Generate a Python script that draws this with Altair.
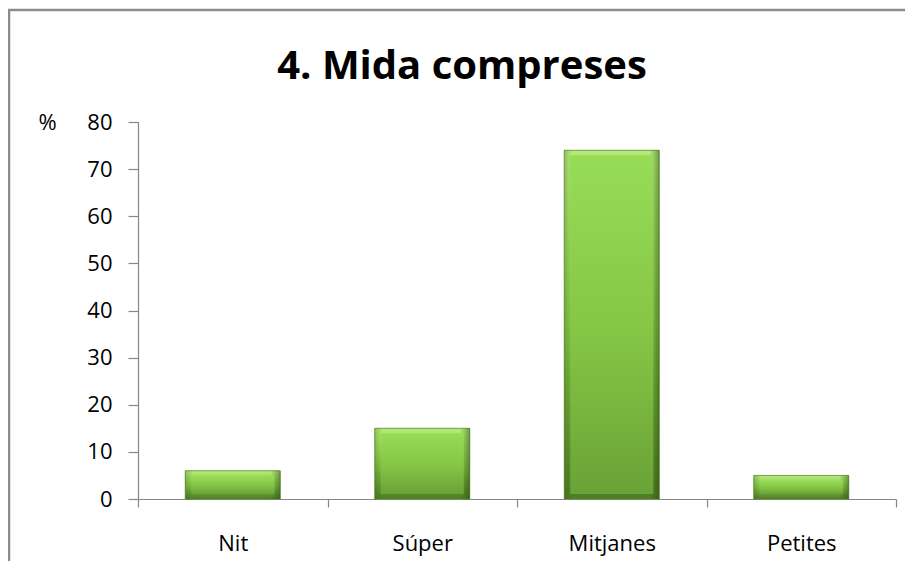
import altair as alt
import pandas as pd

categories = ["Nit", "Súper", "Mitjanes", "Petites"]
values = [6, 15, 74, 5]
y_ticks = [0, 10, 20, 30, 40, 50, 60, 70, 80]
title_text = "4. Mida compreses"

df = pd.DataFrame({"cat": categories, "val": values})

W, H = 758, 377
FONT = "Open Sans"
AXC = "#868686"

x_enc = alt.X(
    "cat:N", sort=categories,
    scale=alt.Scale(paddingInner=0, paddingOuter=0),
    axis=alt.Axis(title=None, labelAngle=0, tickBand="extent", tickSize=8,
                  labelPadding=26, domainColor=AXC, tickColor=AXC,
                  labelFont=FONT, labelFontSize=22, labelColor="#000000"),
)
y_enc = alt.Y(
    "val:Q", stack=None,
    scale=alt.Scale(domain=[0, 80], nice=False),
    axis=alt.Axis(values=y_ticks, title="%", titleAngle=0, titleX=-91, titleY=0,
                  titleBaseline="middle", titleAlign="center", titleFont=FONT,
                  titleFontSize=22, titleFontWeight="normal", titleColor="#000000",
                  grid=False, tickSize=10, labelPadding=16, domainColor=AXC,
                  tickColor=AXC, labelFont=FONT, labelFontSize=22,
                  labelColor="#000000"),
)

outer_grad = alt.Gradient(
    gradient="linear", x1=0, x2=0, y1=0, y2=1,
    stops=[alt.GradientStop(color="#b4ea7a", offset=0),
           alt.GradientStop(color="#86c646", offset=0.5),
           alt.GradientStop(color="#4f7d25", offset=1)],
)
side_grad = alt.Gradient(
    gradient="linear", x1=0, x2=1, y1=0, y2=0,
    stops=[alt.GradientStop(color="rgba(40,80,10,0.25)", offset=0),
           alt.GradientStop(color="rgba(40,80,10,0)", offset=0.08),
           alt.GradientStop(color="rgba(40,80,10,0)", offset=0.9),
           alt.GradientStop(color="rgba(30,60,5,0.45)", offset=1)],
)
inner_grad = alt.Gradient(
    gradient="linear", x1=0, x2=0, y1=0, y2=1,
    stops=[alt.GradientStop(color="#97dc56", offset=0),
           alt.GradientStop(color="#86c746", offset=0.5),
           alt.GradientStop(color="#6aa336", offset=1)],
)

base = alt.Chart(df).encode(x=x_enc, y=y_enc, y2=alt.datum(0))

outer = base.mark_bar(size=95, fill=outer_grad, stroke="#5a8a2c", strokeWidth=0.8)
side = base.mark_bar(size=95, fill=side_grad)
inner = base.mark_bar(size=83, fill=inner_grad, yOffset=5, y2Offset=-5)

title = alt.Chart(pd.DataFrame({"t": [title_text]})).mark_text(
    font=FONT, fontSize=40, fontWeight="bold", color="#000000",
    align="center", baseline="alphabetic",
).encode(text="t:N", x=alt.value(324), y=alt.value(-43))

border = alt.Chart(pd.DataFrame({"b": [1]})).mark_rect(
    fill=None, stroke="#8c8c8c", strokeWidth=2.5,
).encode(x=alt.value(-129), x2=alt.value(W + 60), y=alt.value(-112), y2=alt.value(H + 150))

chart = alt.layer(border, outer, side, inner, title).properties(
    width=W, height=H,
    autosize=alt.AutoSizeParams(type="none"),
    padding={"left": 130, "top": 114, "right": 9, "bottom": 62},
).configure_view(stroke=None).configure_axis(domainWidth=1.2, tickWidth=1.2)

chart.save("out.html", embed_options={"renderer": "svg", "actions": False})
